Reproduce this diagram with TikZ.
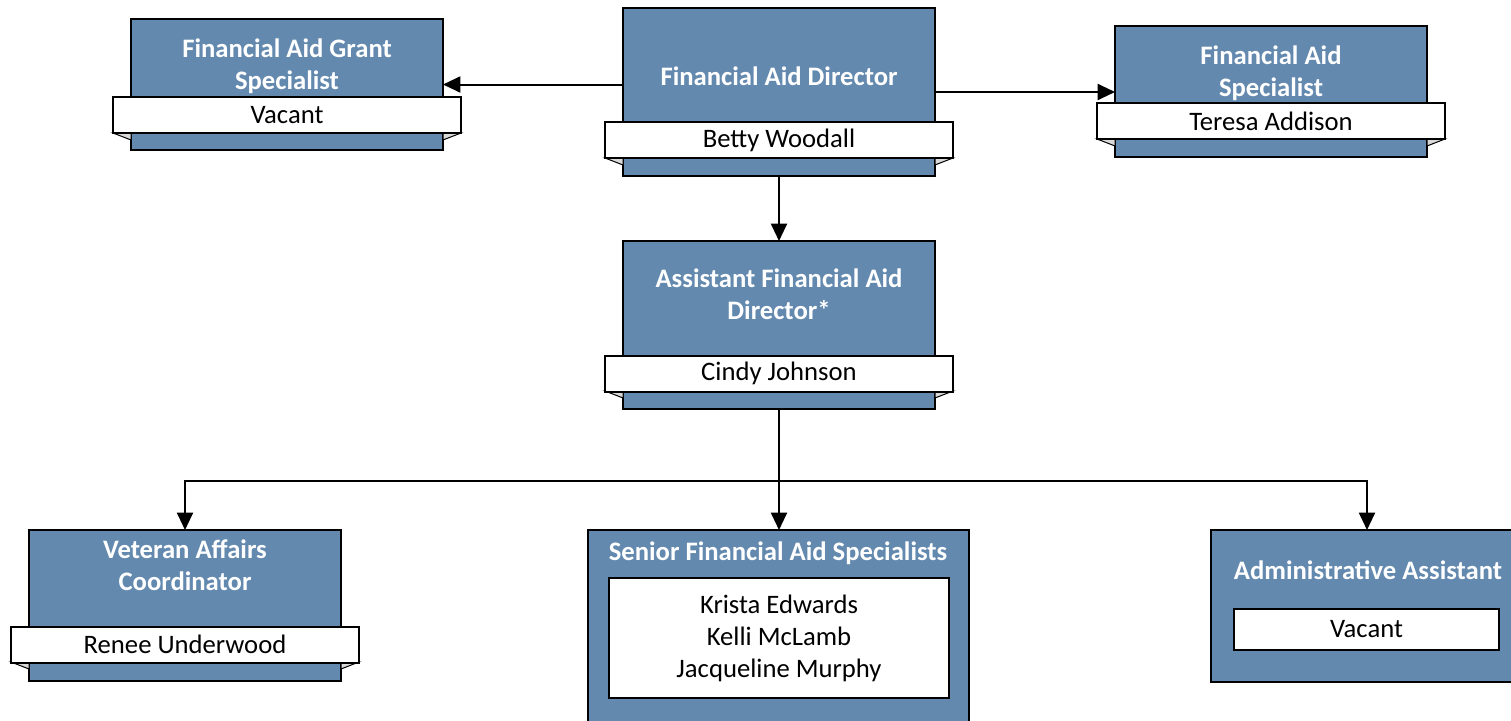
\documentclass[tikz,border=0pt]{standalone}
\usepackage{fontspec}
\setmainfont{Carlito}
\usetikzlibrary{arrows.meta}
\usetikzlibrary{positioning}
\definecolor{boxblue}{RGB}{99,137,175}
\definecolor{foldgray}{RGB}{217,217,217}
\tikzset{box/.style = {draw, line width=1.5pt, fill=boxblue, inner sep=0, outer sep=0, minimum width=234pt}}
\tikzset{title/.style = {text=white, font=\fontsize{20pt}{24pt}\selectfont\bfseries, align=center, inner sep=0}}
\tikzset{namebar/.style = {draw, line width=1.5pt, fill=white, inner sep=0, outer sep=0, minimum width=261pt, minimum height=27pt, font=\fontsize{20pt}{24pt}\selectfont}}
\tikzset{fold/.style = {draw, line width=0.75pt, fill=foldgray}}
\tikzset{arr/.style = {line width=1.5pt, -{Triangle[length=13pt, width=12pt]}}}

\begin{document}
\begin{tikzpicture}[x=0.75pt, y=-0.75pt]
    \useasboundingbox (0, 0) rectangle (1511, 721);
    % boxes
    \node [box, minimum height=98.25pt] (gsp) at (287, 84.5) {};
    \node [box, minimum height=126pt] (dir) at (779, 92) {};
    \node [box, minimum height=98.25pt] (spec) at (1271, 91.5) {};
    \node [box, minimum height=126pt] (asst) at (779, 325) {};
    \node [box, minimum height=113.25pt] (vet) at (185, 605.5) {};
    \node [box, minimum width=285.75pt, minimum height=172.5pt, anchor=north] (senior) at (778, 530) {};
    \node [box, minimum height=114pt] (admin) at (1367, 606) {};
    % titles
    \node [title] (gspt) at (287, 66) {Financial Aid Grant\\Specialist};
    \node [title] (dirt) at (779, 76) {Financial Aid Director};
    \node [title] (spect) at (1271, 73.5) {Financial Aid\\Specialist};
    \node [title] (asstt) at (779, 294) {Assistant Financial Aid\\Director*};
    \node [title] (vett) at (185, 565) {Veteran Affairs\\Coordinator};
    \node [title] (seniort) at (778, 553) {Senior Financial Aid Specialists};
    \node [title] (admint) at (1368, 570) {Administrative Assistant};
    % folds under the name bars
    \foreach \b/\y in {gsp/133, dir/158, spec/139, asst/391, vet/662} {
        \draw [fold] (\b.west |- 0, \y) ++(-18, 0) -- (\b.west |- 0, \y) -- ++(0, 7) -- cycle;
        \draw [fold] (\b.east |- 0, \y) ++(18, 0) -- (\b.east |- 0, \y) -- ++(0, 7) -- cycle;
    }
    % name bars
    \node [namebar] (gspn) at (287, 115) {Vacant};
    \node [namebar] (dirn) at (779, 140) {Betty Woodall};
    \node [namebar] (specn) at (1271, 121) {Teresa Addison};
    \node [namebar] (asstn) at (779, 373.5) {Cindy Johnson};
    \node [namebar] (vetn) at (185, 644.5) {Renee Underwood};
    \node [namebar, minimum width=255pt, minimum height=90pt, align=center] (seniorn) at (779, 638)
        {Krista Edwards\\Kelli McLamb\\Jacqueline Murphy};
    \node [namebar, minimum width=198.75pt, minimum height=30.75pt] (adminn) at (1366.5, 629.5) {Vacant};
    % connectors
    \coordinate (bus) at (779, 481);
    \draw [arr] (dir.west |- gsp.east) -- (gsp.east);
    \draw [arr] (dir.east) -- (dir.east -| spec.west);
    \draw [arr] (dir.south) -- (asst.north);
    \draw [arr] (asst.south) -- (asst.south |- senior.north);
    \draw [arr] (bus) -| (vet.north);
    \draw [arr] (bus) -| (admin.north);
\end{tikzpicture}
\end{document}
